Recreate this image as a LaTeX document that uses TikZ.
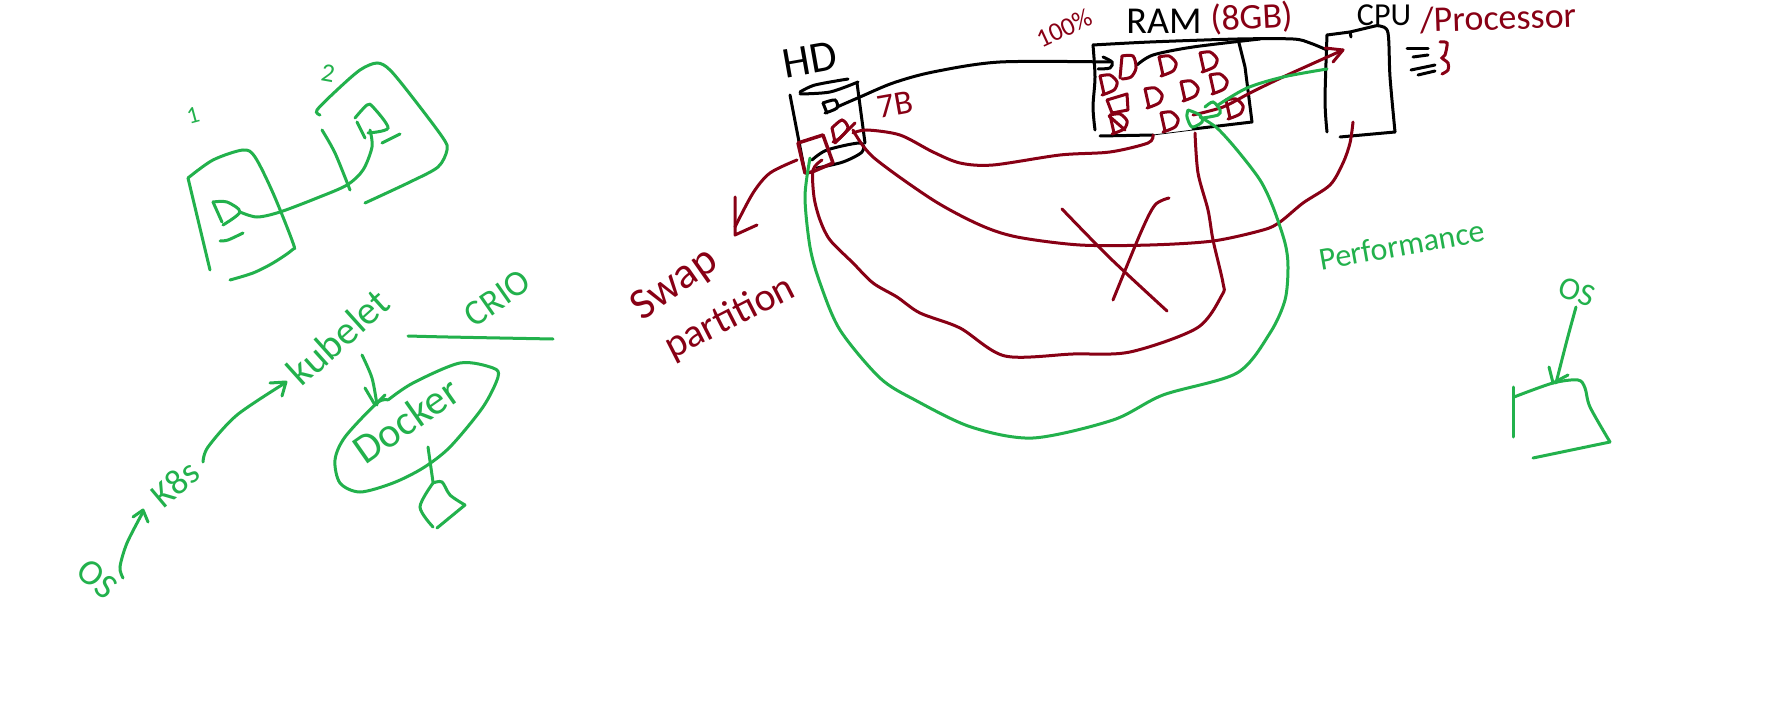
\documentclass[tikz,border=0pt]{standalone}
\usepackage{fontspec}
\setmainfont{Carlito}
\definecolor{inkgreen}{HTML}{22B14C}
\definecolor{inkred}{HTML}{880015}
\newcommand\hand[2]{\draw[#1] plot[smooth] coordinates {#2};}
\newcommand\straight[2]{\draw[#1,line join=round] plot coordinates {#2};}
\newcommand\labelfont[1]{\fontsize{#1}{#1}\selectfont}
\newcommand\dee[2]{\begin{scope}[shift={(#1,#2)}]
  \hand{rs}{(-7,-9) (3,-10) (10,-3) (7,5) (-5,10)}
  \straight{rs}{(-7,-9) (-3,9)}
\end{scope}}
\tikzset{
  gs/.style={draw=inkgreen,line width=3pt,line cap=round},
  rs/.style={draw=inkred,line width=3pt,line cap=round},
  ks/.style={draw=black,line width=3pt,line cap=round},
  gt/.style={text=inkgreen,inner sep=0pt},
  rt/.style={text=inkred,inner sep=0pt},
  kt/.style={text=black,inner sep=0pt}
}
\begin{document}
\begin{tikzpicture}[x=1pt,y=-1pt]
\useasboundingbox (0,0) rectangle (1771,719);
\fill[white] (0,0) rectangle (1771,719);

% --- upper-left: two containers
\node[gt,rotate=15] (one) at (193,115) {\labelfont{24}1};
\node[gt,rotate=-10] (two) at (328,73) {\labelfont{26}2};
\straight{gs}{(188,178) (210,270)}
\hand{gs}{(188,178) (213,160) (243,150) (255,157) (273,193) (293,243) (292,250) (273,263) (253,273) (230,280)}
\hand{gs}{(213,202) (227,202) (240,212) (223,225)}
\straight{gs}{(213,202) (222,222)}
\hand{gs}{(220,241) (228,240) (243,233)}
\hand{gs}{(240,212) (257,217) (280,212) (317,198) (347,185) (363,170) (372,147) (370,130)}
\hand{gs}{(320,115) (317,110) (337,90) (360,70) (377,63) (390,70) (413,98) (443,138) (447,150) (438,167) (410,182) (365,203)}
\hand{gs}{(322,130) (335,153) (350,190)}
\hand{gs}{(355,118) (367,105) (373,107) (388,128) (368,133)}
\straight{gs}{(357,122) (365,138)}
\straight{gs}{(382,143) (400,134)}

% --- lower-left: OS, K8s, kubelet, Docker, CRIO
\node[gt,rotate=-40] (osleft) at (97,579) {\labelfont{36}OS};
\node[gt,rotate=40] (kube) at (175,484) {\labelfont{36}K8s};
\node[gt,rotate=42] (kubelet) at (338,337) {\labelfont{40}kubelet};
\node[gt,rotate=35] (crio) at (497,298) {\labelfont{36}CRIO};
\node[gt,rotate=35] (docker) at (406,420) {\labelfont{42}Docker};
\hand{gs}{(123,578) (120,567) (127,543) (143,512)}
\straight{gs}{(133,517) (143,510) (148,522)}
\hand{gs}{(203,462) (208,447) (237,415) (285,383)}
\straight{gs}{(270,383) (286,382) (282,396)}
\hand{gs}{(362,355) (372,378) (377,405)}
\straight{gs}{(365,388) (375,405) (385,395)}
\hand{gs}{(388,400) (413,383) (460,363) (493,368) (498,377) (483,407) (450,447) (423,468) (393,483) (360,492) (340,483) (335,460) (345,437) (377,403) (388,400)}
\straight{gs}{(428,447) (433,482)}
\hand{gs}{(433,483) (442,482) (450,495) (465,505)}
\straight{gs}{(465,505) (437,528)}
\hand{gs}{(433,483) (420,507) (433,527)}
\hand{gs}{(408,336) (448,337) (553,339)}

% --- HD
\node[kt,rotate=10] (hd) at (810,60) {\labelfont{44}HD};
\node[rt,rotate=10] (sevenb) at (895,105) {\labelfont{34}7B};
\hand{ks}{(800,92) (815,85) (848,79)}
\hand{ks}{(800,94) (830,92) (858,82)}
\straight{ks}{(790,95) (805,173)}
\straight{ks}{(857,83) (865,143)}
\hand{ks}{(812,160) (827,150) (860,143) (862,152) (843,162) (817,168)}
\hand{ks}{(823,103) (835,100) (837,108) (825,113)}
\straight{ks}{(823,103) (827,113)}
\hand{ks}{(837,107) (860,97) (893,83) (933,72) (1000,62) (1110,62)}
\hand{ks}{(1103,57) (1112,62) (1110,68) (1098,69)}

% --- RAM
\node[rt,rotate=25] (pct) at (1064,28) {\labelfont{26}100\%};
\node[kt] (ram) at (1164,21) {\labelfont{38}RAM};
\node[rt,rotate=3] (gb) at (1252,18) {\labelfont{36}(8GB)};
\hand{ks}{(1093,45) (1150,42) (1238,39) (1293,39) (1310,43) (1327,50)}
\hand{ks}{(1093,45) (1095,77) (1093,107) (1095,130)}
\straight{ks}{(1100,136) (1153,135)}
\draw[black,line width=.8pt] (1153,135) -- (1193,130);
\straight{ks}{(1193,129) (1252,122) (1245,67) (1238,39)}
\hand{ks}{(1137,65) (1153,55) (1193,47) (1260,39)}

\hand{rs}{(1122,56) (1133,56) (1136,68) (1131,77) (1122,79)}
\straight{rs}{(1122,56) (1120,78)}
\dee{1166}{66}
\dee{1207}{62}
\dee{1107}{85}
\dee{1152}{98}
\dee{1188}{91}
\dee{1217}{84}
\straight{rs}{(1107,100) (1127,94) (1128,110) (1112,113) (1107,100)}
\dee{1117}{124}
\straight{rs}{(1109,116) (1125,130)}
\dee{1168}{122}
\dee{1233}{109}

% --- CPU
\node[kt] (cpu) at (1384,15) {\labelfont{32}CPU};
\node[rt,rotate=2] (proc) at (1498,18) {\labelfont{36}/Processor};
\hand{ks}{(1327,132) (1325,100) (1327,35)}
\straight{ks}{(1327,35) (1350,32) (1375,26)}
\hand{ks}{(1375,26) (1380,26) (1388,33) (1390,77) (1395,132)}
\straight{ks}{(1395,132) (1340,137)}
\straight{ks}{(1350,32) (1351,37)}
\straight{ks}{(1407,49) (1428,49)}
\straight{ks}{(1413,57) (1428,55)}
\straight{ks}{(1411,70) (1435,65)}
\straight{ks}{(1418,75) (1435,71)}
\hand{rs}{(1440,42) (1447,43) (1445,55) (1442,58) (1448,63) (1448,70) (1442,74)}

% --- red strokes
\hand{rs}{(1153,135) (1148,143) (1110,152) (1060,155) (993,165) (960,163) (933,152) (900,135) (867,130) (853,133)}
\hand{rs}{(832,128) (842,120) (848,128) (840,138) (833,142)}
\straight{rs}{(832,128) (835,142)}
\straight{rs}{(855,123) (835,143)}
\hand{rs}{(853,130) (873,157) (933,200) (980,225) (1017,237) (1080,245) (1150,245) (1213,241) (1263,230) (1280,222) (1303,203) (1330,185) (1343,163) (1350,143) (1353,122)}
\hand{rs}{(822,160) (813,170) (814,197) (820,220) (830,240) (853,263) (873,283) (897,297) (920,313) (960,328) (1005,356) (1073,354) (1130,352) (1197,328) (1222,295) (1223,283) (1213,240) (1208,210) (1198,173) (1195,133)}
\hand{rs}{(1193,115) (1223,107) (1250,93) (1283,77) (1343,50)}
\straight{rs}{(1325,48) (1343,50) (1333,62)}
\draw[inkred,line width=3.5pt,line cap=round,line join=round] (798,143) -- (823,135) -- (833,163) -- (812,172) -- (805,173) -- cycle;
\hand{rs}{(797,160) (770,173) (753,193) (735,227)}
\straight{rs}{(735,197) (735,235) (757,225)}
\hand{rs}{(1062,209) (1110,258) (1167,311)}
\hand{rs}{(1169,198) (1155,205) (1141,232) (1113,300)}
\node[rt,rotate=35] (swap) at (675,285) {\labelfont{44}Swap};
\node[rt,rotate=27] (partition) at (730,318) {\labelfont{40}partition};

% --- green strokes
\hand{gs}{(1188,110) (1200,115) (1202,122) (1192,127) (1187,117) (1188,110)}
\hand{gs}{(1205,107) (1213,102) (1220,110) (1218,115) (1203,118)}
\hand{gs}{(1218,105) (1247,88) (1283,77) (1327,69)}
\hand{gs}{(1200,117) (1217,128) (1237,150) (1260,180) (1273,207) (1285,243) (1288,267) (1285,300) (1270,333) (1237,373) (1163,395) (1113,420) (1033,438) (971,427) (915,400) (880,378) (840,330) (820,283) (810,247) (805,197) (810,158)}
\node[gt,rotate=10] (perf) at (1402,245) {\labelfont{32}Performance};

% --- right: OS and box
\node[gt,rotate=-20] (osright) at (1577,292) {\labelfont{32}OS};
\hand{gs}{(1576,307) (1567,340) (1556,383)}
\straight{gs}{(1549,367) (1553,383) (1568,375)}
\straight{gs}{(1513,387) (1513,437)}
\hand{gs}{(1514,397) (1553,383) (1578,380) (1585,388) (1590,407) (1610,442)}
\straight{gs}{(1610,442) (1533,458)}
\end{tikzpicture}
\end{document}
